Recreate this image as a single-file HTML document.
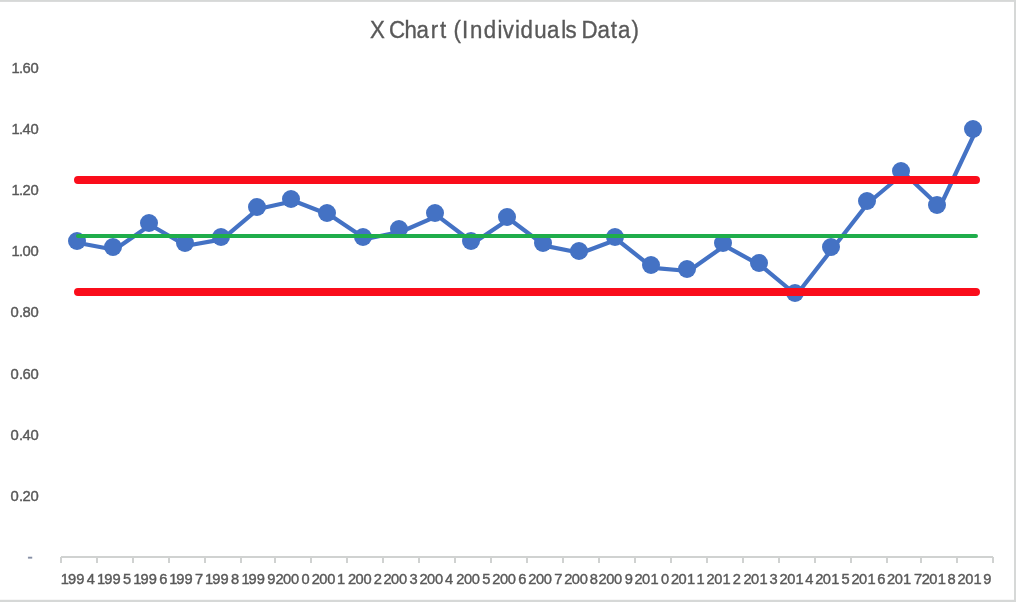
<!DOCTYPE html><html><head><meta charset="utf-8"><title>X Chart</title>
<style>html,body{margin:0;padding:0;background:#fff}body{width:1016px;height:602px;overflow:hidden}svg{display:block}text{font-family:"Liberation Sans",sans-serif;fill:#595959}</style></head><body>
<svg width="1016" height="602" viewBox="0 0 1016 602">
<rect x="0" y="0" width="1016" height="602" fill="#fff"/>
<rect x="0" y="0" width="1016" height="1.9" fill="#d6d8d7"/>
<rect x="1014" y="0" width="2" height="602" fill="#d6d8d7"/>
<rect x="0" y="599.8" width="1016" height="2.2" fill="#d6d8d7"/>
<text transform="scale(0.96,1)" x="385.47 399.74 405.33 421.23 433.78 448.68 458.46 465.83 472.52 481.23 489.63 503.91 518.26 523.81 536.49 542.32 556.54 569.70 584.66 589.04 598.33 605.81 622.30 636.32 643.78 657.80" y="37.9" font-size="23.2" stroke="#595959" stroke-width="0.35">X Chart (Individuals Data)</text>
<g font-size="14.8" stroke="#595959" stroke-width="0.4">
<text x="11.6 19.0 22.6 30.5" y="73.10">1.60</text>
<text x="11.6 19.0 22.6 30.5" y="134.20">1.40</text>
<text x="11.6 19.0 22.6 30.5" y="195.30">1.20</text>
<text x="11.6 19.0 22.6 30.5" y="256.40">1.00</text>
<text x="10.4 19.0 22.6 30.5" y="316.80">0.80</text>
<text x="10.4 19.0 22.6 30.5" y="378.60">0.60</text>
<text x="10.4 19.0 22.6 30.5" y="439.80">0.40</text>
<text x="10.4 19.0 22.6 30.5" y="500.90">0.20</text>
<text x="27.5" y="561.95" font-size="15.5" style="fill:#868fa5" stroke="#868fa5" stroke-width="0.5">-</text>
</g>
<rect x="61" y="556" width="932" height="2" fill="#d0d2d1"/>
<path d="M60 557h2v6h-2zM96 557h2v6h-2zM132 557h2v6h-2zM168 557h2v6h-2zM204 557h2v6h-2zM240 557h2v6h-2zM274 557h2v6h-2zM310 557h2v6h-2zM346 557h2v6h-2zM382 557h2v6h-2zM418 557h2v6h-2zM454 557h2v6h-2zM490 557h2v6h-2zM526 557h2v6h-2zM562 557h2v6h-2zM598 557h2v6h-2zM634 557h2v6h-2zM670 557h2v6h-2zM706 557h2v6h-2zM742 557h2v6h-2zM778 557h2v6h-2zM814 557h2v6h-2zM850 557h2v6h-2zM886 557h2v6h-2zM920 557h2v6h-2zM956 557h2v6h-2zM992 557h2v6h-2z" fill="#d0d2d1"/>
<g font-size="14.1" stroke="#595959" stroke-width="0.4">
<text transform="translate(62.25,583.5) scale(1.04,1)" x="-1.42 5.46 13.39 23.48" y="0">1994</text>
<text transform="translate(98.50,583.5) scale(1.04,1)" x="-1.42 5.46 13.39 23.55" y="0">1995</text>
<text transform="translate(134.75,583.5) scale(1.04,1)" x="-1.42 5.46 13.39 23.63" y="0">1996</text>
<text transform="translate(170.60,583.5) scale(1.04,1)" x="-1.42 5.46 13.39 23.53" y="0">1997</text>
<text transform="translate(206.50,583.5) scale(1.04,1)" x="-1.42 5.46 13.39 23.53" y="0">1998</text>
<text transform="translate(242.90,583.5) scale(1.04,1)" x="-1.42 5.46 13.39 23.53" y="0">1999</text>
<text transform="translate(276.00,583.5) scale(1.04,1)" x="-0.60 6.85 14.35 24.64" y="0">2000</text>
<text transform="translate(312.25,583.5) scale(1.04,1)" x="-0.60 6.85 14.35 23.92" y="0">2001</text>
<text transform="translate(348.50,583.5) scale(1.04,1)" x="-0.60 6.85 14.35 24.30" y="0">2002</text>
<text transform="translate(384.00,583.5) scale(1.04,1)" x="-0.60 6.85 14.35 24.44" y="0">2003</text>
<text transform="translate(420.00,583.5) scale(1.04,1)" x="-0.60 6.85 14.35 24.06" y="0">2004</text>
<text transform="translate(456.90,583.5) scale(1.04,1)" x="-0.60 6.85 14.35 24.41" y="0">2005</text>
<text transform="translate(492.90,583.5) scale(1.04,1)" x="-0.60 6.85 14.35 24.35" y="0">2006</text>
<text transform="translate(528.80,583.5) scale(1.04,1)" x="-0.60 6.85 14.35 24.39" y="0">2007</text>
<text transform="translate(564.75,583.5) scale(1.04,1)" x="-0.60 6.85 14.35 24.06" y="0">2008</text>
<text transform="translate(599.10,583.5) scale(1.04,1)" x="-0.60 6.85 14.35 24.69" y="0">2009</text>
<text transform="translate(635.00,583.5) scale(1.04,1)" x="-0.60 6.85 14.83 24.97" y="0">2010</text>
<text transform="translate(671.50,583.5) scale(1.04,1)" x="-0.60 6.85 14.83 23.97" y="0">2011</text>
<text transform="translate(707.10,583.5) scale(1.04,1)" x="-0.60 6.85 14.83 24.69" y="0">2012</text>
<text transform="translate(744.00,583.5) scale(1.04,1)" x="-0.60 6.85 14.83 24.44" y="0">2013</text>
<text transform="translate(780.10,583.5) scale(1.04,1)" x="-0.60 6.85 14.83 24.10" y="0">2014</text>
<text transform="translate(815.75,583.5) scale(1.04,1)" x="-0.60 6.85 14.83 24.65" y="0">2015</text>
<text transform="translate(852.00,583.5) scale(1.04,1)" x="-0.60 6.85 14.83 24.35" y="0">2016</text>
<text transform="translate(887.70,583.5) scale(1.04,1)" x="-0.60 6.85 14.83 25.35" y="0">2017</text>
<text transform="translate(922.25,583.5) scale(1.04,1)" x="-0.60 6.85 14.83 24.25" y="0">2018</text>
<text transform="translate(958.10,583.5) scale(1.04,1)" x="-0.60 6.85 14.83 24.30" y="0">2019</text>
</g>
<polyline points="78.60,243.00 114.48,249.80 150.36,225.00 186.25,245.80 222.13,239.40 258.01,209.00 294.00,201.00 329.88,215.00 365.76,239.00 401.65,231.50 437.53,215.80 473.41,243.00 509.29,219.00 545.17,245.90 581.06,253.00 616.94,239.50 652.82,267.90 688.70,271.00 724.58,245.70 760.47,265.30 796.35,295.00 832.23,249.00 868.11,203.00 904.00,173.00 939.88,207.00 975.76,131.00" stroke="#4472c4" stroke-width="4.2" stroke-linejoin="round" fill="none"/>
<circle cx="77" cy="241" r="9" fill="#4472c4"/>
<circle cx="113" cy="247" r="9" fill="#4472c4"/>
<circle cx="149" cy="223" r="9" fill="#4472c4"/>
<circle cx="185" cy="243" r="9" fill="#4472c4"/>
<circle cx="221" cy="237" r="9" fill="#4472c4"/>
<circle cx="257" cy="207" r="9" fill="#4472c4"/>
<circle cx="291" cy="199" r="9" fill="#4472c4"/>
<circle cx="327" cy="213" r="9" fill="#4472c4"/>
<circle cx="363" cy="237" r="9" fill="#4472c4"/>
<circle cx="399" cy="229" r="9" fill="#4472c4"/>
<circle cx="435" cy="213" r="9" fill="#4472c4"/>
<circle cx="471" cy="241" r="9" fill="#4472c4"/>
<circle cx="507" cy="217" r="9" fill="#4472c4"/>
<circle cx="543" cy="243" r="9" fill="#4472c4"/>
<circle cx="579" cy="251" r="9" fill="#4472c4"/>
<circle cx="615" cy="237" r="9" fill="#4472c4"/>
<circle cx="651" cy="265" r="9" fill="#4472c4"/>
<circle cx="687" cy="269" r="9" fill="#4472c4"/>
<circle cx="723" cy="243" r="9" fill="#4472c4"/>
<circle cx="759" cy="263" r="9" fill="#4472c4"/>
<circle cx="795" cy="293" r="9" fill="#4472c4"/>
<circle cx="831" cy="247" r="9" fill="#4472c4"/>
<circle cx="867" cy="201" r="9" fill="#4472c4"/>
<circle cx="901" cy="171" r="9" fill="#4472c4"/>
<circle cx="937" cy="205" r="9" fill="#4472c4"/>
<circle cx="973" cy="129" r="9" fill="#4472c4"/>
<path d="M78 236H976" stroke="#1fad4b" stroke-width="4" stroke-linecap="round" fill="none"/>
<path d="M78 180H976M78 292H976" stroke="#fa0d1b" stroke-width="8" stroke-linecap="round" fill="none"/>
</svg></body></html>
